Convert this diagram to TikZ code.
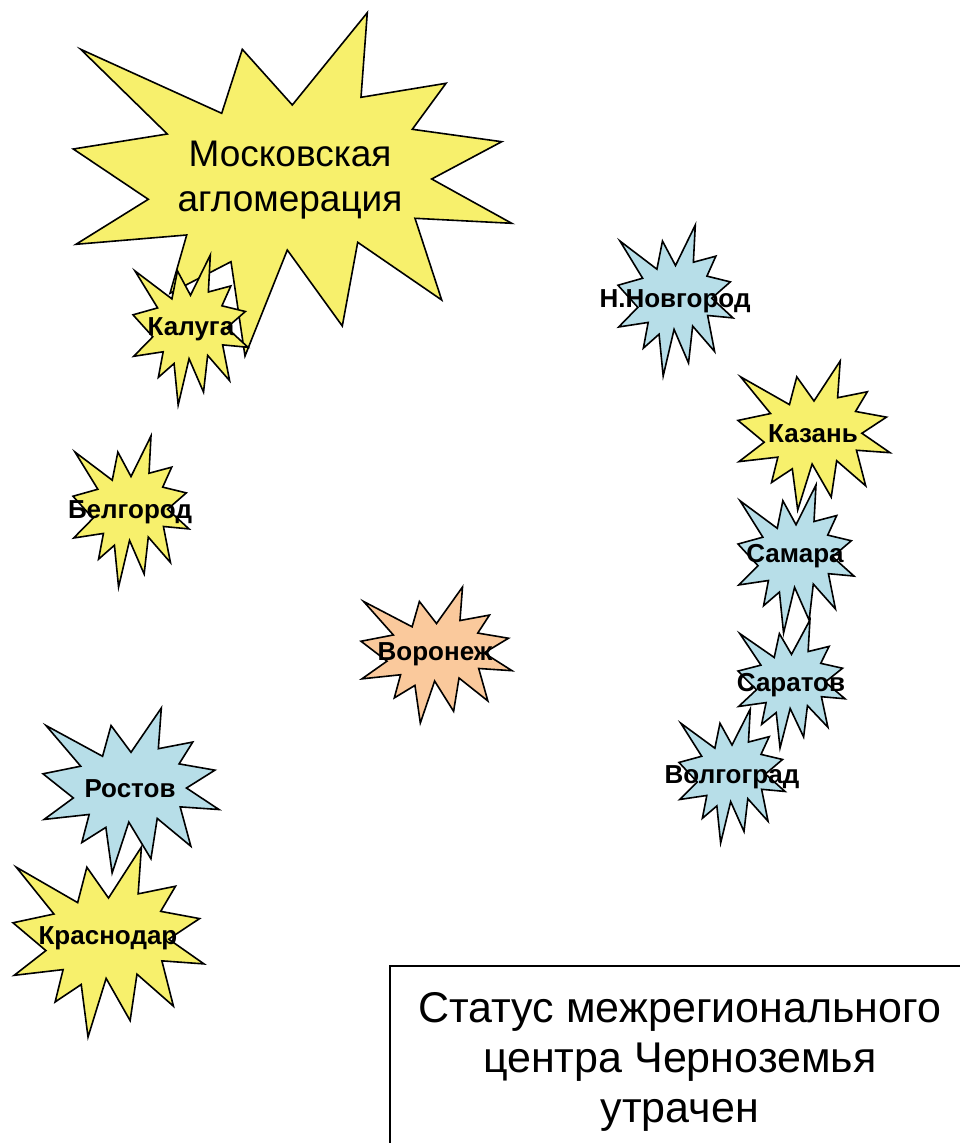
\documentclass[tikz,border=0pt]{standalone}
\usepackage{fontspec}
\setmainfont{Liberation Sans}
\definecolor{sealyellow}{HTML}{F7F06C}
\definecolor{sealblue}{HTML}{B7DEE8}
\definecolor{sealorange}{HTML}{FAC99C}
\tikzset{
  seal/.style={draw=black, line width=1.6pt},
  lbl/.style={font=\fontsize{26}{31}\selectfont\bfseries, inner sep=0pt, anchor=base},
}
% irregular explosion shape: x, y (top-left), width, height, fill
\newcommand\irrseal[5]{%
  \draw[seal, fill=#5, shift={(#1,#2)}, xscale=#3, yscale=#4]
    (0.5,0.26852) -- (0.67231,0) -- (0.65532,0.24653) -- (0.85093,0.20634)
    -- (0.77324,0.33866) -- (0.97671,0.37671) -- (0.81514,0.48495) -- (1,0.61528)
    -- (0.77949,0.59917) -- (0.84005,0.83773) -- (0.64907,0.66931) -- (0.61329,0.91375)
    -- (0.48759,0.69144) -- (0.39282,1) -- (0.35718,0.72347) -- (0.22046,0.8156)
    -- (0.26236,0.64523) -- (0.00625,0.67532) -- (0.17231,0.54514) -- (0,0.39884)
    -- (0.21421,0.35264) -- (0.01713,0.10625) -- (0.33852,0.29259) -- (0.38667,0.10625)
    -- cycle;}
\begin{document}
\begin{tikzpicture}[x=1pt, y=-1pt]
\useasboundingbox (0,0) rectangle (960,1143);
\clip (0,0) rectangle (960,1143);

% Moscow agglomeration
\draw[seal, fill=sealyellow]
  (80.7,49.3) -- (221.7,113.3) -- (242.3,49.3) -- (292.3,105) -- (367.3,12.7)
  -- (361,97.3) -- (446,83.3) -- (412.3,129.3) -- (501.7,141.7) -- (431.7,179)
  -- (511.7,223.3) -- (415,218.3) -- (441.7,300) -- (357.7,242.3) -- (342.3,326)
  -- (287.3,250) -- (245,356) -- (231,261.7) -- (170,293.3) -- (186.7,235)
  -- (76,244.3) -- (148.3,199.3) -- (73.3,149) -- (167.3,134) -- cycle;
\node[font=\fontsize{37}{45}\selectfont, align=center, inner sep=0pt] (moscow) at (290,180) {Московская\\агломерация};

\irrseal{133}{255}{115}{150}{sealyellow}
\node[lbl] (kaluga) at (191,335) {Калуга};

\irrseal{73}{436}{116}{151}{sealyellow}
\node[lbl] (belgorod) at (130,518) {Белгород};

\irrseal{43}{708}{176}{165}{sealblue}
\node[lbl] (rostov) at (130,797) {Ростов};

\irrseal{13}{847}{191}{190}{sealyellow}
\node[lbl] (krasnodar) at (108,944) {Краснодар};

\irrseal{361}{587}{151}{136}{sealorange}
\node[lbl] (voronezh) at (435,660) {Воронеж};

\irrseal{618}{225}{115}{151}{sealblue}
\node[lbl] (novgorod) at (675,307) {Н.Новгород};

\irrseal{738}{361}{152}{149}{sealyellow}
\node[lbl] (kazan) at (813,442) {Казань};

\irrseal{738}{485}{116}{148}{sealblue}
\node[lbl] (samara) at (795,562) {Самара};

\irrseal{738}{620}{107}{128}{sealblue}
\node[lbl] (saratov) at (791,691) {Саратов};

\irrseal{679}{709}{106}{134}{sealblue}
\node[lbl] (volgograd) at (732,783) {Волгоград};

% status box
\node[draw=black, line width=1.6pt, anchor=north west, minimum width=580pt, minimum height=193pt,
      font=\fontsize{43}{50}\selectfont, align=center, inner sep=0pt] (status) at (389,965)
  {Статус межрегионального\\центра Черноземья\\утрачен};
\end{tikzpicture}
\end{document}
